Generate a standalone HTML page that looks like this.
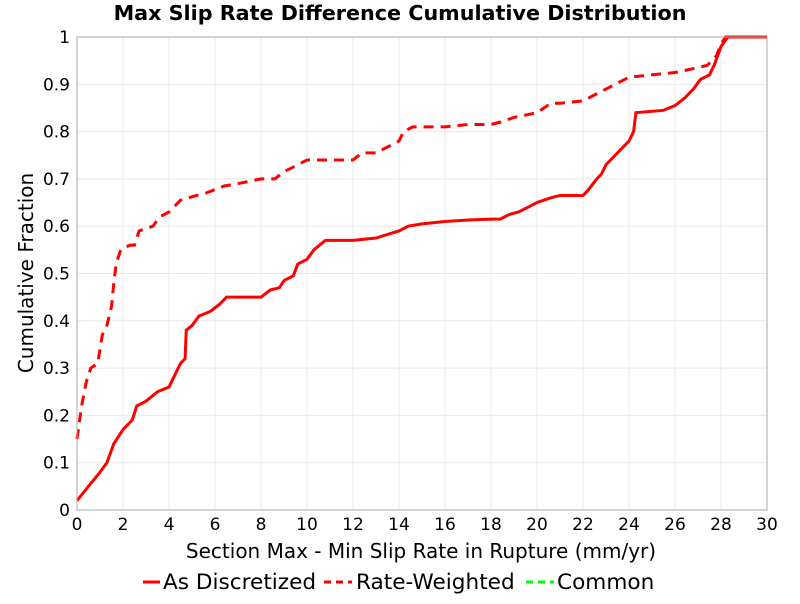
<!DOCTYPE html>
<html><head><meta charset="utf-8"><style>
body{margin:0;background:#fff;font-family:"DejaVu Sans","Liberation Sans",sans-serif;}
svg text{font-family:"DejaVu Sans","Liberation Sans",sans-serif;}
</style></head><body>
<svg id="chart" width="800" height="600">
<text x="400" y="20" text-anchor="middle" font-size="20.7" font-weight="bold">Max Slip Rate Difference Cumulative Distribution</text>
<g id="grid"></g>
<g id="series"></g>
<rect x="77" y="37" width="690" height="473" fill="none" stroke="#aaa"/>
<g id="ticks"></g>
<text x="421" y="558" text-anchor="middle" font-size="20">Section Max - Min Slip Rate in Rupture (mm/yr)</text>
<text transform="translate(33,273) rotate(-90)" text-anchor="middle" font-size="20">Cumulative Fraction</text>
<g>
<g><line x1="143" y1="582" x2="160" y2="582" stroke="#f00" stroke-width="3"/><text x="163" y="589" font-size="21.6">As Discretized</text></g>
<g><line x1="324" y1="582" x2="352" y2="582" stroke="#f00" stroke-width="3" stroke-dasharray="7,5"/><text x="356" y="589" font-size="21.6">Rate-Weighted</text></g>
<g><line x1="526" y1="582" x2="554" y2="582" stroke="#0f0" stroke-width="3" stroke-dasharray="7,5"/><text x="557" y="589" font-size="21.6">Common</text></g>
</g>
</svg>
<script>
const xTicks=[0,2,4,6,8,10,12,14,16,18,20,22,24,26,28,30];
const yTicks=[0,0.1,0.2,0.3,0.4,0.5,0.6,0.7,0.8,0.9,1];
const yTickLabels=["0","0.1","0.2","0.3","0.4","0.5","0.6","0.7","0.8","0.9","1"];
const discX=[0,0.5,1,1.3,1.6,2,2.4,2.6,3,3.5,4,4.2,4.5,4.7,4.75,5,5.3,5.8,6.2,6.5,7,8,8.4,8.8,9,9.4,9.6,10,10.3,10.8,12,13,14,14.4,15,16,17,18,18.4,18.8,19.2,19.6,20,20.6,21,22,22.2,22.6,22.8,23,23.4,23.8,24,24.2,24.3,25.5,26,26.4,26.8,27.1,27.5,27.7,28,28.3,30];
const discY=[0.02,0.05,0.08,0.1,0.14,0.17,0.19,0.22,0.23,0.25,0.26,0.28,0.31,0.32,0.38,0.39,0.41,0.42,0.435,0.45,0.45,0.45,0.465,0.47,0.485,0.495,0.52,0.53,0.55,0.57,0.57,0.575,0.59,0.6,0.605,0.61,0.613,0.615,0.615,0.625,0.63,0.64,0.65,0.66,0.665,0.665,0.675,0.7,0.71,0.73,0.75,0.77,0.78,0.8,0.84,0.845,0.855,0.87,0.89,0.91,0.92,0.94,0.98,1,1];
const rwX=[0,0.2,0.4,0.6,0.9,1,1.1,1.3,1.5,1.6,1.7,1.9,2.3,2.5,2.7,3.3,3.6,4,4.5,5.2,5.6,6.4,7,7.5,8,8.6,9,9.6,10,11,12,12.4,13,13.6,14,14.2,14.6,16,17,18,18.4,19,19.5,20,20.6,21,22,22.6,23.4,24,25,26,26.5,27.4,27.8,28,28.2,30];
const rwY=[0.15,0.22,0.27,0.3,0.31,0.34,0.37,0.39,0.43,0.48,0.52,0.55,0.56,0.56,0.59,0.6,0.62,0.63,0.655,0.665,0.67,0.685,0.69,0.695,0.7,0.7,0.715,0.73,0.74,0.74,0.74,0.755,0.755,0.77,0.78,0.8,0.81,0.81,0.815,0.815,0.82,0.83,0.835,0.84,0.86,0.86,0.865,0.88,0.9,0.915,0.92,0.925,0.93,0.94,0.96,0.985,1,1];
const L=77,R=767,T=37,B=510;
const sx=v=>L+(v-0)/30*(R-L), sy=v=>B-v*(B-T);
const NS="http://www.w3.org/2000/svg";
const grid=document.getElementById('grid'),ticks=document.getElementById('ticks'),series=document.getElementById('series');
function mk(tag,attrs,parent){const e=document.createElementNS(NS,tag);for(const k in attrs)e.setAttribute(k,attrs[k]);parent.appendChild(e);return e;}
xTicks.forEach(v=>{
 const g=mk('line',{x1:sx(v),x2:sx(v),y1:T,y2:B,stroke:'#e8e8e8'},grid);
 
 
 const t=mk('text',{x:sx(v),y:B+20,'text-anchor':'middle','font-size':17},ticks);t.textContent=v;
 
 
});
yTicks.forEach((v,i)=>{
 const g=mk('line',{x1:L,x2:R,y1:sy(v),y2:sy(v),stroke:'#e8e8e8'},grid);
 
 
 const t=mk('text',{x:L-7,y:sy(v)+6,'text-anchor':'end','font-size':17},ticks);t.textContent=yTickLabels[i];
 
 
});
function pts(xs,ys){return xs.map((x,i)=>sx(x)+','+sy(ys[i])).join(' ');}
const l1=mk('polyline',{points:pts(discX,discY),fill:'none',stroke:'#f00','stroke-width':3},series);


const l2=mk('polyline',{points:pts(rwX,rwY),fill:'none',stroke:'#f00','stroke-width':3,'stroke-dasharray':'10,7'},series);


</script>
</body></html>
